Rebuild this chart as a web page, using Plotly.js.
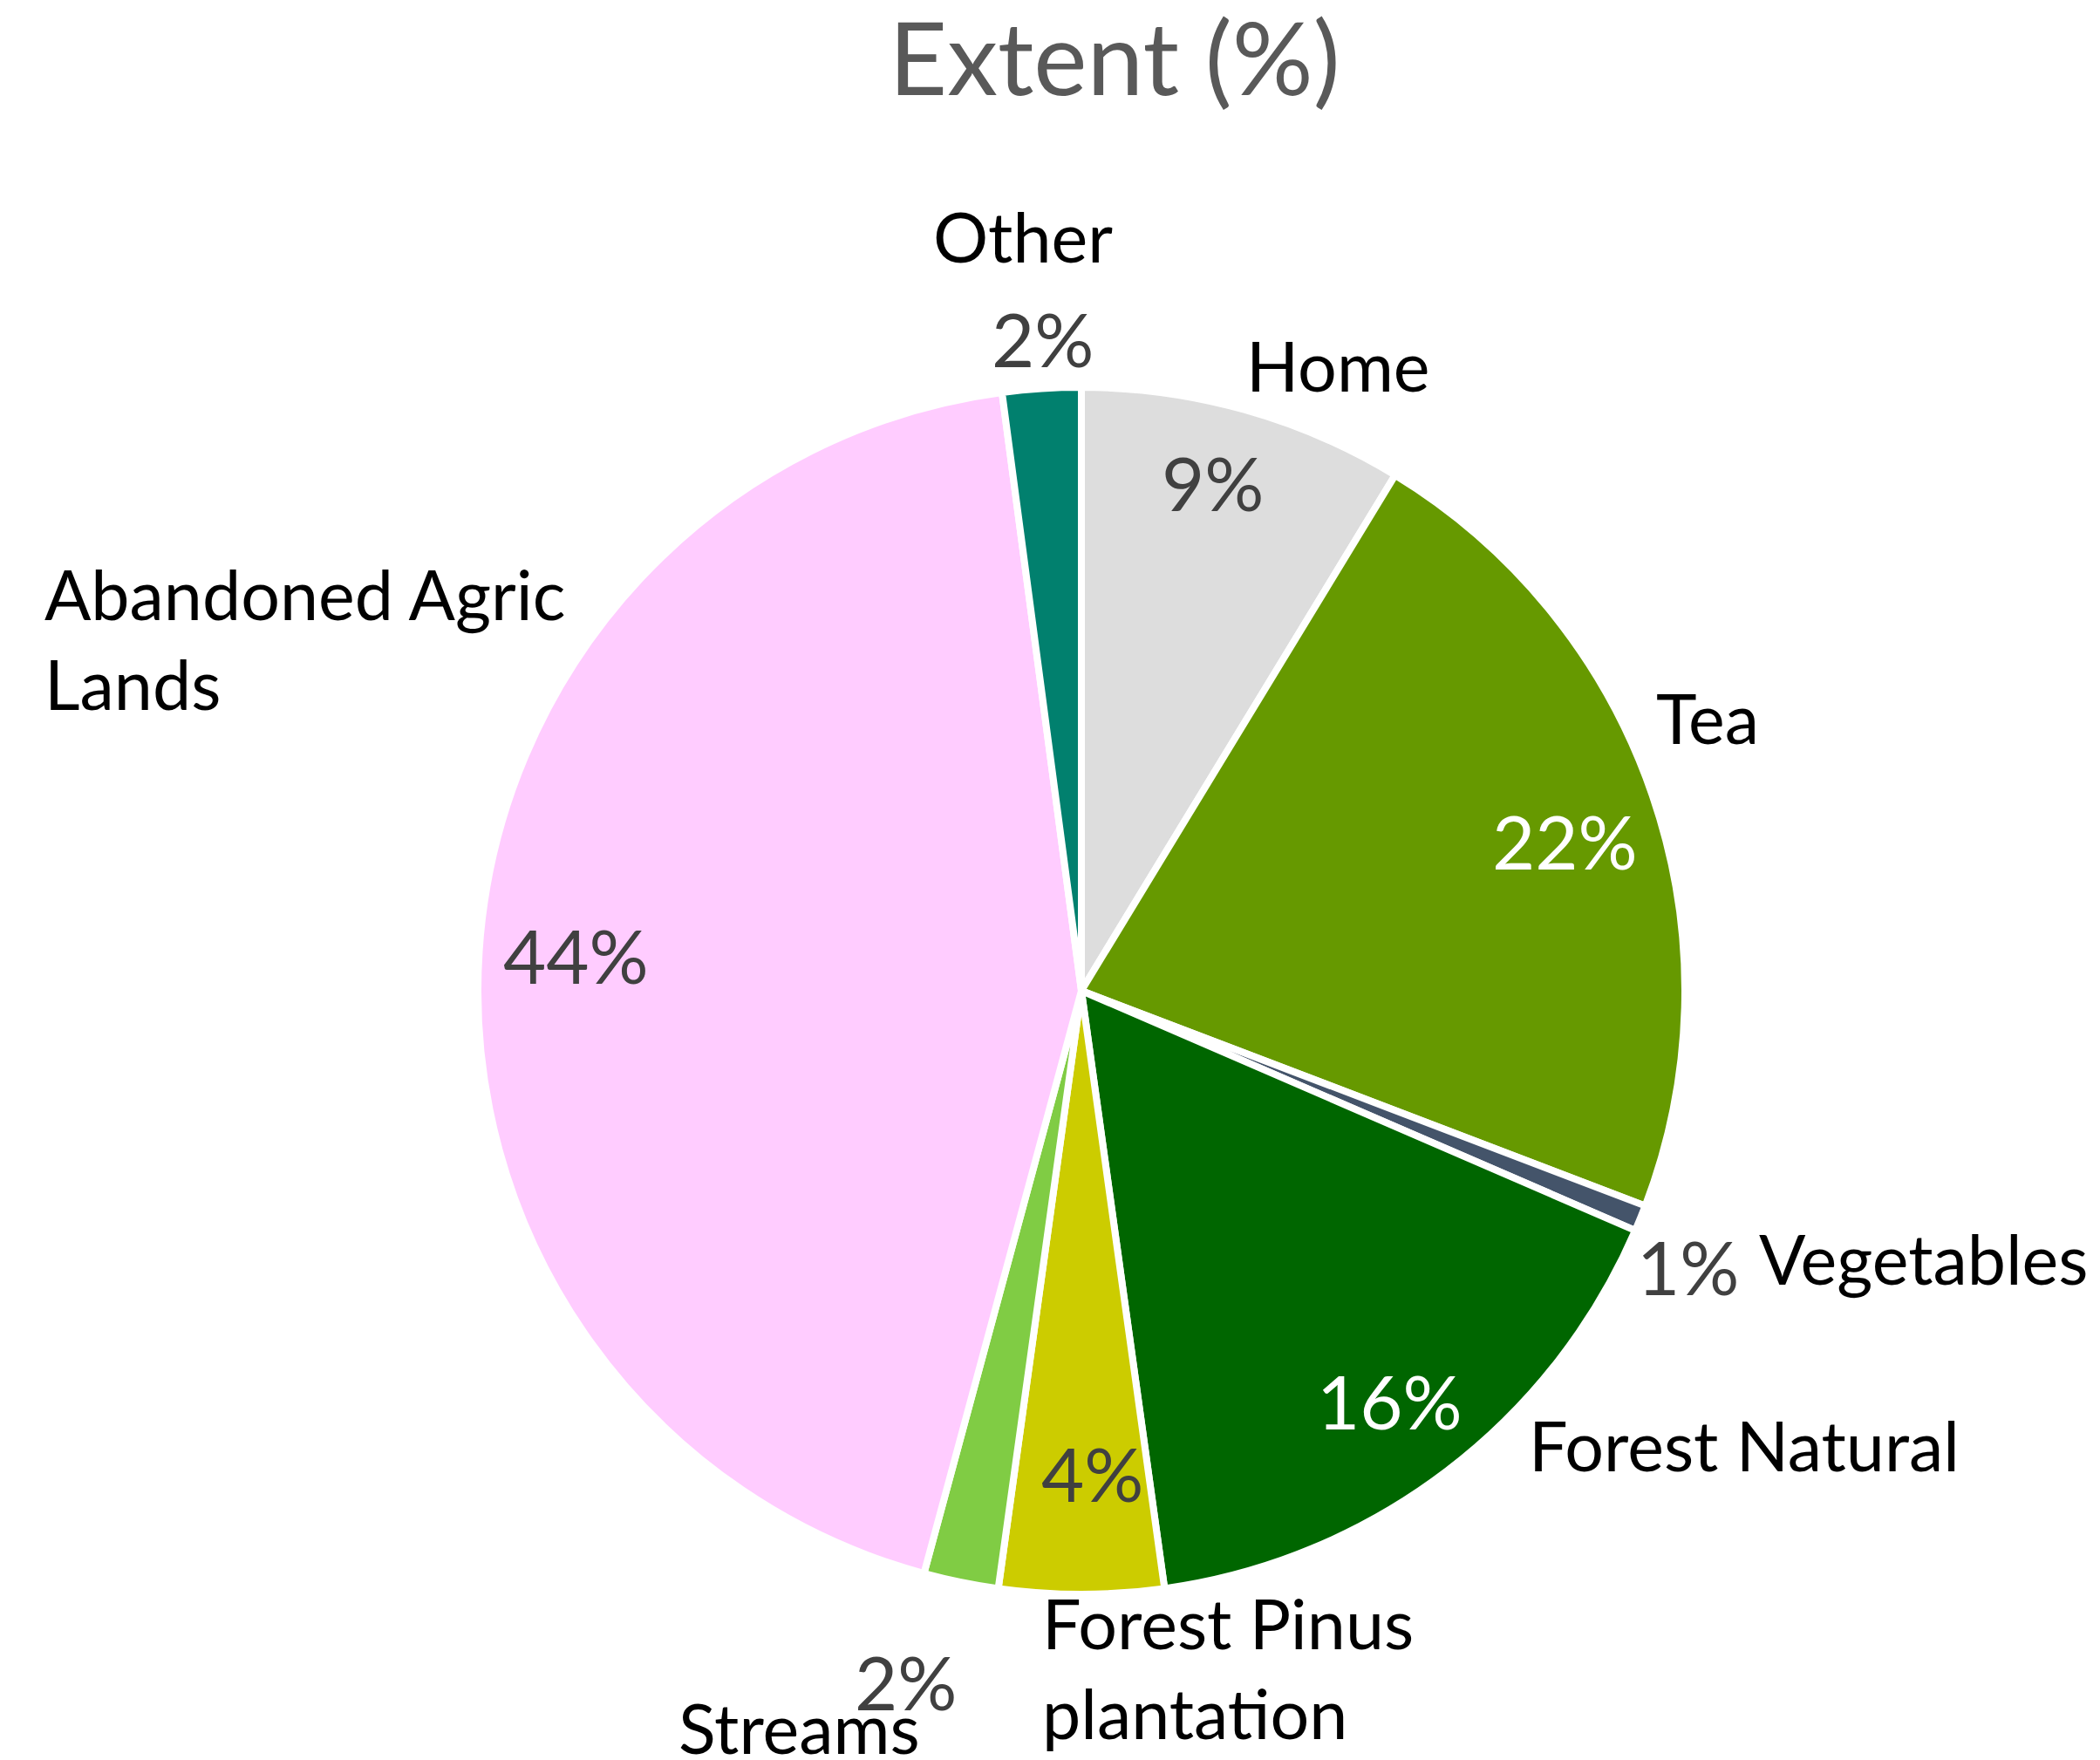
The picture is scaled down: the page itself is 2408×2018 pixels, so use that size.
<!DOCTYPE html>
<html>
<head>
<meta charset="utf-8">
<script src="https://cdn.plot.ly/plotly-3.0.1.min.js"></script>
<style>html,body{margin:0;padding:0;background:#fff;}#chart{width:2408px;height:2018px;}</style>
</head>
<body>
<div id="chart"></div>
<script>
// ---- data ----
var categories = ["Home", "Tea", "Vegetables", "Forest Natural", "Forest Pinus plantation", "Streams", "Abandoned Agric Lands", "Other"];
var labelText  = ["Home", "Tea", "Vegetables", "Forest Natural", "Forest Pinus<br>plantation", "Streams", "Abandoned Agric<br>Lands", "Other"];
var extentValues = [8.7, 22.1, 0.7, 16.3, 4.4, 2.0, 43.7, 2.1];
var sliceColors = ["#DDDDDD", "#669900", "#44546A", "#006600", "#CCCC00", "#80CC44", "#FFCCFF", "#01806E"];
var chartTitle = "Extent (%)";

// ---- layout helpers (pixel positions of labels) ----
var W = 2408, H = 2018;
function px(x){ return x / W; }
function py(y){ return 1 - y / H; }

// name label positions [x, y, xanchor]
var namePos = [
  [1534, 418, "center"],
  [1958, 822, "center"],
  [2206, 1442, "center"],
  [2000, 1656, "center"],
  [1193, 1912, "left"],
  [916, 1980, "center"],
  [49, 732, "left"],
  [1173, 270, "center"]
];
// percent label positions [x, y]
var pctPos = [
  [1390, 553], [1794, 964], [1935, 1452], [1593, 1606],
  [1252, 1689], [1038, 1928], [660, 1095], [1195, 388]
];
var pctColor = ["#404040", "#FFFFFF", "#404040", "#FFFFFF", "#404040", "#404040", "#404040", "#404040"];

var total = extentValues.reduce(function(a,b){return a+b;}, 0);
var FONT = "Lato, 'Open Sans', sans-serif";

var annotations = [];
for (var i = 0; i < categories.length; i++) {
  annotations.push({
    xref: "paper", yref: "paper",
    x: px(namePos[i][0]), y: py(namePos[i][1]),
    xanchor: namePos[i][2], yanchor: "middle", align: "left",
    text: labelText[i], showarrow: false,
    font: {family: FONT, size: 79, color: "#000000"}
  });
  annotations.push({
    xref: "paper", yref: "paper",
    x: px(pctPos[i][0]), y: py(pctPos[i][1]),
    xanchor: "center", yanchor: "middle",
    text: Math.round(extentValues[i] / total * 100) + "%", showarrow: false,
    font: {family: FONT, size: 85, color: pctColor[i]}
  });
}

var cx = 1240, cy = 1136, r = 692;
var trace = {
  type: "pie",
  labels: categories,
  values: extentValues,
  sort: false,
  direction: "clockwise",
  rotation: 0,
  textinfo: "none",
  hoverinfo: "label+percent",
  marker: {colors: sliceColors, line: {color: "#FFFFFF", width: 8}},
  domain: {x: [px(cx - r), px(cx + r)], y: [py(cy + r), py(cy - r)]},
  showlegend: false
};

var layout = {
  width: W, height: H,
  margin: {l: 0, r: 0, t: 0, b: 0},
  paper_bgcolor: "#FFFFFF",
  showlegend: false,
  title: {
    text: chartTitle,
    x: px(1278), xanchor: "center",
    y: py(68), yanchor: "middle",
    font: {family: FONT, size: 116, color: "#595959"}
  },
  annotations: annotations
};

Plotly.newPlot("chart", [trace], layout, {displayModeBar: false, staticPlot: true});
</script>
</body>
</html>
